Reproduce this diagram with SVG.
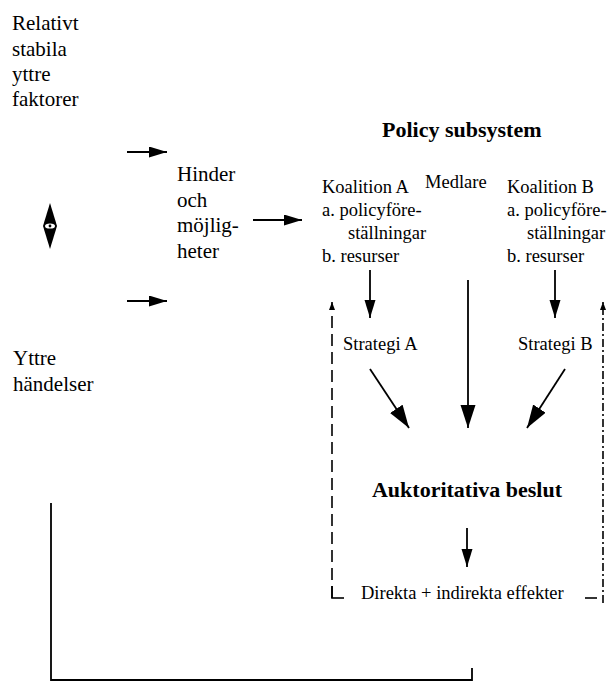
<svg xmlns="http://www.w3.org/2000/svg" width="609" height="693" viewBox="0 0 609 693">
<style>
text{fill:#000}
.big{font-size:21px}
.mid{font-size:18.5px}
.bold{font-size:22px;font-weight:bold}
.ln{stroke:#000;stroke-width:1.8;fill:none}
.dash{stroke:#000;stroke-width:1.6;fill:none;stroke-dasharray:12 6}
.dashdot{stroke:#000;stroke-width:1.6;fill:none;stroke-dasharray:8 3 2 3}
</style>
<defs>
<marker id="ahM" markerUnits="userSpaceOnUse" markerWidth="20" markerHeight="12" refX="18" refY="5.5" orient="auto"><path d="M0,0 L18,5.5 L0,11 z" fill="#000"/></marker>
<marker id="ahL" markerUnits="userSpaceOnUse" markerWidth="25" markerHeight="16" refX="23" refY="7.5" orient="auto"><path d="M0,0 L23,7.5 L0,15 z" fill="#000"/></marker>
<marker id="ahS" markerUnits="userSpaceOnUse" markerWidth="10" markerHeight="8" refX="8" refY="3" orient="auto"><path d="M0,0 L8,3 L0,6 z" fill="#000"/></marker>
</defs>
<g font-family="'Liberation Serif', 'Times New Roman', Times, 'DejaVu Serif', serif">
<g id="relativt-stabila">
<text class="big" x="12" y="30">Relativt</text>
<text class="big" x="12" y="55.5">stabila</text>
<text class="big" x="12" y="81">yttre</text>
<text class="big" x="12" y="106">faktorer</text>
</g>

<g id="yttre-handelser">
<text class="big" x="13" y="365">Yttre</text>
<text class="big" x="13" y="391">händelser</text>
</g>

<g id="hinder">
<text class="big" x="177" y="181">Hinder</text>
<text class="big" x="177" y="206.5">och</text>
<text class="big" x="177" y="232">möjlig-</text>
<text class="big" x="177" y="257.5">heter</text>
</g>

<g id="policy-subsystem">
<text class="bold" x="382" y="137">Policy subsystem</text>
</g>

<g id="koalition-a">
<text class="mid" x="322" y="193">Koalition A</text>
<text class="mid" x="322" y="216">a. policyföre-</text>
<text class="mid" x="348" y="238.5">ställningar</text>
<text class="mid" x="322" y="261.5">b. resurser</text>
</g>

<g id="medlare">
<text class="mid" x="425" y="188">Medlare</text>
</g>

<g id="koalition-b">
<text class="mid" x="507" y="193">Koalition B</text>
<text class="mid" x="507" y="216">a. policyföre-</text>
<text class="mid" x="527" y="238.5">ställningar</text>
<text class="mid" x="507" y="261.5">b. resurser</text>
</g>

<g id="strategi-a">
<text class="mid" x="343" y="350">Strategi A</text>
</g>

<g id="strategi-b">
<text class="mid" x="518" y="350">Strategi B</text>
</g>

<g id="auktoritativa-beslut">
<text class="bold" x="467" y="497" text-anchor="middle">Auktoritativa beslut</text>
</g>

<g id="effekter">
<text class="mid" x="361" y="599">Direkta + indirekta effekter</text>
</g>
</g>
<g id="connectors">
<line class="ln" x1="127" y1="152" x2="167" y2="152" marker-end="url(#ahM)"/>
<line class="ln" x1="127" y1="301" x2="167" y2="301" marker-end="url(#ahM)"/>
<line class="ln" x1="253" y1="220" x2="302" y2="220" marker-end="url(#ahM)"/>
<g id="double-arrow">
<path d="M50,203 L57,226 L50,249 L43,226 z" fill="#000"/>
<ellipse cx="50" cy="226" rx="5" ry="2.6" fill="#fff"/>
<circle cx="50" cy="226" r="1.4" fill="#000"/>
</g>
<line class="ln" x1="370" y1="270" x2="370" y2="318" marker-end="url(#ahM)"/>
<line class="ln" x1="555" y1="270" x2="555" y2="318" marker-end="url(#ahM)"/>
<line class="ln" x1="468" y1="280" x2="468" y2="428" marker-end="url(#ahL)"/>
<line class="ln" x1="370" y1="369" x2="409" y2="428" marker-end="url(#ahL)"/>
<line class="ln" x1="565" y1="369" x2="527" y2="428" marker-end="url(#ahL)"/>
<line class="ln" x1="467" y1="528" x2="467" y2="567" marker-end="url(#ahM)"/>
<line class="dash" x1="332" y1="598" x2="332" y2="302" marker-end="url(#ahS)"/>
<line class="ln" x1="332" y1="586" x2="332" y2="598" style="stroke-width:1.6"/>
<line class="ln" x1="331.2" y1="598" x2="344" y2="598" style="stroke-width:1.6"/>
<line class="dashdot" x1="603" y1="603" x2="603" y2="302" marker-end="url(#ahS)"/>
<line class="ln" x1="585" y1="598" x2="597" y2="598" style="stroke-width:1.6"/>
<path class="ln" d="M51,503 L51,680 L472,680 L472,668"/>
</g>
</svg>
